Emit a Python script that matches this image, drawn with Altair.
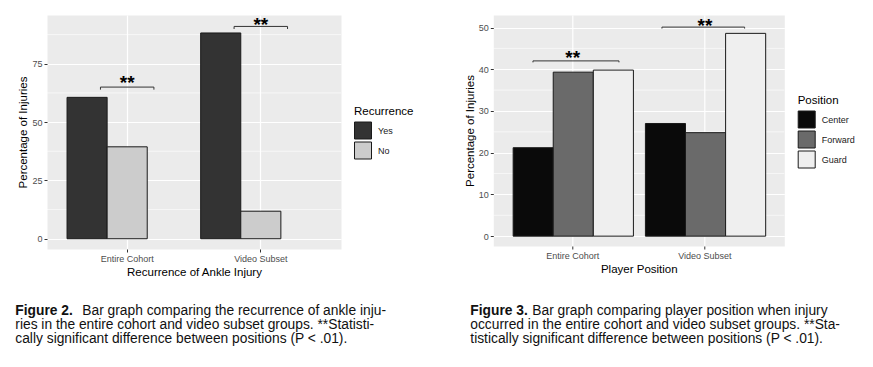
import altair as alt
import pandas as pd

FONT = "Liberation Sans"

# ---------------- Figure 2 data ----------------
groups = ["Entire Cohort", "Video Subset"]
recurrence_levels = ["Yes", "No"]
recurrence_yes = [60.6, 88.2]
recurrence_no = [39.4, 11.8]
fig2_colors = ["#333333", "#CCCCCC"]
fig2_y_ticks = [0, 25, 50, 75]
fig2_y_minor = [12.5, 37.5, 62.5, 87.5]
fig2_y_domain = [-4.4, 95.9]
# significance brackets, x in category units (Entire Cohort = 1, Video Subset = 2)
fig2_br_x1 = [0.8, 1.8]
fig2_br_x2 = [1.2, 2.2]
fig2_br_y = [65.0, 91.0]
fig2_br_tip = [1.1, 1.1]
fig2_star_x = [1.0, 2.0]
fig2_star_y = [64.0, 88.9]

# ---------------- Figure 3 data ----------------
positions = ["Center", "Forward", "Guard"]
pos_center = [21.2, 27.0]
pos_forward = [39.3, 24.8]
pos_guard = [39.8, 48.6]
fig3_colors = ["#0A0A0A", "#6A6A6A", "#EFEFEF"]
fig3_y_ticks = [0, 10, 20, 30, 40, 50]
fig3_y_minor = [5, 15, 25, 35, 45]
fig3_y_domain = [-2.36, 53.0]
fig3_br_x1 = [0.7, 1.675]
fig3_br_x2 = [1.35, 2.3]
fig3_br_y = [42.0, 50.1]
fig3_br_tip = [0.35, 0.35]
fig3_star_x = [1.0, 2.0]
fig3_star_y = [41.2, 48.9]

# ---------------- captions ----------------
cap2_bold = "Figure 2."
cap2_lines = [
    "Bar graph comparing the recurrence of ankle inju-",
    "ries in the entire cohort and video subset groups.  **Statisti-",
    "cally significant difference between positions (P < .01).",
]
cap3_bold = "Figure 3."
cap3_lines = [
    "Bar graph comparing player position when injury",
    "occurred in the entire cohort and video subset groups. **Sta-",
    "tistically significant difference between positions (P < .01).",
]

df2 = pd.DataFrame({
    "Group": groups * 2,
    "Recurrence": ["Yes"] * 2 + ["No"] * 2,
    "Percentage": recurrence_yes + recurrence_no,
})
df2["order"] = [recurrence_levels.index(v) for v in df2["Recurrence"]]
df3 = pd.DataFrame({
    "Group": groups * 3,
    "Position": ["Center"] * 2 + ["Forward"] * 2 + ["Guard"] * 2,
    "Percentage": pos_center + pos_forward + pos_guard,
})
df3["order"] = [positions.index(v) for v in df3["Position"]]


def build(df, cat_field, levels, colors, ydom, yticks, yminor,
          bx1, bx2, by, btip, sx, sy, xtitle, legend_title, lx, ly, w, h,
          cap_bold, cap_lines, cap_x, rest_x):
    yscale = alt.Scale(domain=ydom, nice=False, zero=False)
    yaxis = alt.Axis(values=yticks, grid=True, title="Percentage of Injuries",
                     labelPadding=2, titlePadding=3)
    xband = alt.Scale(paddingInner=0.1, paddingOuter=0.15)
    xnum = alt.Scale(domain=[0.4, 2.6], nice=False, zero=False)

    def Y(field):
        return alt.Y(field, scale=yscale, axis=yaxis, title="Percentage of Injuries")

    minor = alt.Chart(pd.DataFrame({"v": yminor})).mark_rule(
        color="white", strokeWidth=0.6
    ).encode(y=Y("v:Q"))

    bars = alt.Chart(df).mark_bar(stroke="#1a1a1a", strokeWidth=1).encode(
        x=alt.X("Group:N", sort=groups, scale=xband,
                axis=alt.Axis(title=xtitle, labelAngle=0, grid=True, bandPosition=0.5,
                              labelPadding=2, titlePadding=3)),
        xOffset=alt.XOffset("order:O"),
        y=Y("Percentage:Q"),
        y2=alt.datum(0),
        fill=alt.Fill(f"{cat_field}:N", sort=levels,
                      scale=alt.Scale(domain=levels, range=colors),
                      legend=alt.Legend(title=legend_title, orient="none",
                                        legendX=lx, legendY=ly,
                                        symbolType="square", symbolSize=289,
                                        symbolStrokeColor="#1a1a1a", symbolStrokeWidth=1,
                                        symbolOpacity=1,
                                        rowPadding=-5.5, labelOffset=6, titlePadding=4,
                                        labelFont=FONT, labelFontSize=9, labelColor="#1a1a1a",
                                        titleFont=FONT, titleFontSize=11.5,
                                        titleFontWeight="normal", titleColor="black")),
    )

    brdf = pd.DataFrame({"x1": bx1, "x2": bx2, "y": by,
                         "ytip": [a - b for a, b in zip(by, btip)]})
    rule_kw = dict(color="#333333", strokeWidth=1)
    hline = alt.Chart(brdf).mark_rule(**rule_kw).encode(
        x=alt.X("x1:Q", scale=xnum, axis=None), x2="x2:Q",
        y=Y("y:Q"))
    tip1 = alt.Chart(brdf).mark_rule(**rule_kw).encode(
        x=alt.X("x1:Q", scale=xnum, axis=None),
        y=Y("y:Q"), y2="ytip:Q")
    tip2 = alt.Chart(brdf).mark_rule(**rule_kw).encode(
        x=alt.X("x2:Q", scale=xnum, axis=None),
        y=Y("y:Q"), y2="ytip:Q")

    sdf = pd.DataFrame({"x": sx, "y": sy, "label": ["**"] * len(sx)})
    stars = alt.Chart(sdf).mark_text(
        font=FONT, fontSize=19, fontWeight="bold", baseline="alphabetic", color="black"
    ).encode(x=alt.X("x:Q", scale=xnum, axis=None),
             y=Y("y:Q"), text="label:N")

    def cap(text, x, y, bold=False):
        return alt.Chart(pd.DataFrame({"t": [text]})).mark_text(
            font=FONT, fontSize=13.8, fontWeight="bold" if bold else "normal",
            align="left", baseline="alphabetic", color="#111111"
        ).encode(x=alt.value(x), y=alt.value(y), text="t:N")

    base_y = 299.5
    caps = [cap(cap_bold, cap_x, base_y, True), cap(cap_lines[0], rest_x, base_y)]
    caps += [cap(cap_lines[1], cap_x, base_y + 14), cap(cap_lines[2], cap_x, base_y + 28)]

    return alt.layer(minor, bars, hline, tip1, tip2, stars, *caps).resolve_scale(
        x="independent").properties(width=w, height=h)


left = build(df2, "Recurrence", recurrence_levels, fig2_colors, fig2_y_domain,
             fig2_y_ticks, fig2_y_minor, fig2_br_x1, fig2_br_x2, fig2_br_y, fig2_br_tip,
             fig2_star_x, fig2_star_y, "Recurrence of Ankle Injury", "Recurrence",
             307, 91, 294, 234, cap2_bold, cap2_lines, -31.7, 35.3)
right = build(df3, "Position", positions, fig3_colors, fig3_y_domain,
              fig3_y_ticks, fig3_y_minor, fig3_br_x1, fig3_br_x2, fig3_br_y, fig3_br_tip,
              fig3_star_x, fig3_star_y, "Player Position", "Position",
              304.4, 80, 291, 231, cap3_bold, cap3_lines, -23.0, 39.0)

chart = alt.hconcat(left, right, spacing=152.3, bounds="flush").resolve_scale(
    fill="independent"
).properties(
    padding={"left": 6, "top": 6, "right": 0, "bottom": 0}
).configure_view(
    fill="#EBEBEB", stroke="transparent"
).configure_axis(
    domain=False, tickColor="#333333", tickSize=3, tickWidth=1,
    labelColor="#4D4D4D", labelFont=FONT, labelFontSize=9,
    titleFont=FONT, titleFontSize=11.5, titleFontWeight="normal", titleColor="black",
    gridColor="white", gridWidth=1.2
)

chart.save("out.html", embed_options={"renderer": "svg", "actions": False})
